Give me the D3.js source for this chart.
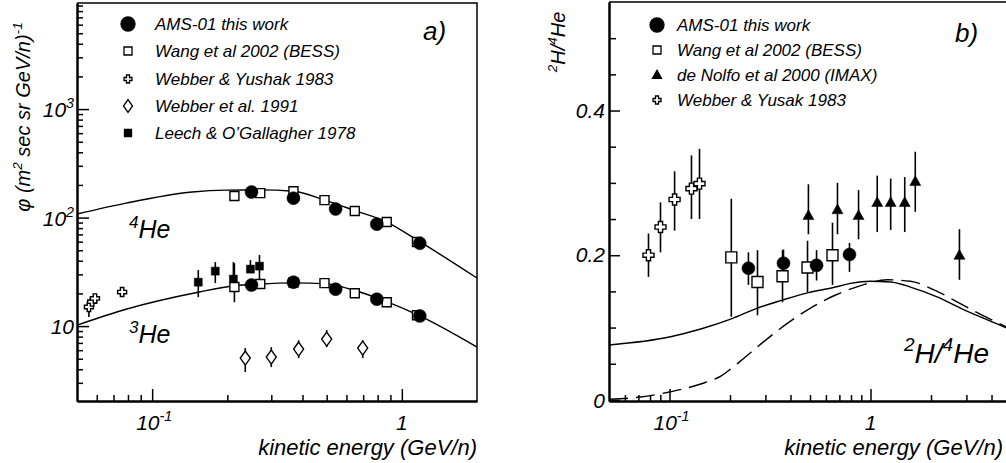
<!DOCTYPE html>
<html><head><meta charset="utf-8">
<script src="https://cdn.jsdelivr.net/npm/d3@7"></script>
<style>
body{margin:0;background:#fff}
text{font-family:"Liberation Sans",Arial,sans-serif;font-style:italic;fill:#000}
</style>
</head><body><svg id="c" width="1006" height="463"></svg>
<script>
// ---------- Panel a) : He fluxes ----------
const amsE = [0.25, 0.368, 0.543, 0.794, 1.18];
const amsHe4 = [172, 151, 120, 87, 58];
const amsHe3 = [23.9, 25.4, 21.9, 17.7, 12.4];
const bessE = [0.2135, 0.271, 0.368, 0.49, 0.648, 0.87, 1.15];
const bessHe4 = [158, 168, 175, 145, 115, 91, 59.5];
const bessHe3 = [22.9, 24.4, 25.2, 24.9, 20.1, 16.6, 12.6];
const bessHe3Lo = [16.6, 23.4, 24.2, 23.9, 19.2, 15.8, 12.0];
const bessHe3Hi = [38.0, 25.4, 26.2, 25.9, 21.0, 17.4, 13.2];
const webYushE = [0.0558, 0.0575, 0.059, 0.0758];
const webYushHe3 = [15.0, 16.8, 18.0, 20.6];
const webYushLo = [12.1, 15.5, 16.8, 19.5];
const webYushHi = [17.5, 18.2, 19.3, 21.8];
const web91E = [0.236, 0.30, 0.386, 0.50, 0.697];
const web91He3 = [5.07, 5.18, 6.14, 7.59, 6.27];
const web91Lo = [3.77, 4.19, 5.07, 6.4, 5.07];
const web91Hi = [6.27, 6.4, 7.4, 9.2, 7.4];
const leechE = [0.153, 0.179, 0.2115, 0.2475, 0.269];
const leechHe3 = [25.4, 32.1, 27.1, 33.5, 35.7];
const leechLo = [18.5, 24.9, 21.5, 30.8, 26.5];
const leechHi = [32.8, 38.9, 38.9, 40.6, 45.2];
const he4ModelE = [0.05, 0.0786, 0.1448, 0.198, 0.269, 0.368, 0.49, 0.648, 0.87, 1.18, 2.0];
const he4Model = [107.7, 136, 172, 179, 180, 175, 145, 116, 91, 60, 27.7];
const he3ModelE = [0.05, 0.0786, 0.1545, 0.2096, 0.269, 0.368, 0.49, 0.648, 0.87, 1.18, 2.0];
const he3Model = [10.2, 14.3, 20.6, 23.4, 24.4, 25.0, 24.6, 21.3, 16.8, 12.4, 6.4];
const legendA = ["AMS-01 this work", "Wang et al 2002 (BESS)", "Webber & Yushak 1983", "Webber et al. 1991", "Leech & O\u2019Gallagher 1978"];
const legendASym = ["circle", "square", "cross", "diamond", "fsquare"];

// ---------- Panel b) : 2H/4He ratio ----------
const rWebE = [0.0786, 0.0902, 0.106, 0.1286, 0.141];
const rWeb = [0.2, 0.239, 0.277, 0.292, 0.299];
const rWebLo = [0.17, 0.204, 0.234, 0.25, 0.25];
const rWebHi = [0.23, 0.273, 0.316, 0.338, 0.347];
const rBessE = [0.203, 0.274, 0.365, 0.486, 0.647];
const rBess = [0.197, 0.163, 0.171, 0.183, 0.2];
const rBessLo = [0.115, 0.117, 0.135, 0.149, 0.159];
const rBessHi = [0.278, 0.207, 0.207, 0.22, 0.245];
const rAmsE = [0.247, 0.369, 0.539, 0.786];
const rAms = [0.182, 0.189, 0.186, 0.201];
const rAmsLo = [0.159, 0.17, 0.165, 0.177];
const rAmsHi = [0.204, 0.208, 0.207, 0.217];
const rImaxE = [0.491, 0.685, 0.872, 1.08, 1.26, 1.48, 1.67, 2.77];
const rImax = [0.255, 0.263, 0.255, 0.273, 0.273, 0.273, 0.302, 0.2];
const rImaxLo = [0.229, 0.229, 0.222, 0.232, 0.235, 0.232, 0.26, 0.166];
const rImaxHi = [0.298, 0.3, 0.29, 0.31, 0.306, 0.308, 0.343, 0.236];
const solidE = [0.05, 0.1, 0.143, 0.203, 0.274, 0.365, 0.486, 0.647, 0.794, 1.0, 1.26, 1.58, 2.16, 2.8, 3.5, 5.0];
const solidR = [0.076, 0.087, 0.098, 0.112, 0.127, 0.138, 0.148, 0.155, 0.161, 0.164, 0.163, 0.156, 0.142, 0.127, 0.115, 0.097];
const dashE = [0.05, 0.0717, 0.1, 0.143, 0.18, 0.226, 0.284, 0.378, 0.503, 0.67, 0.894, 1.21, 1.58, 2.11, 2.8, 3.72, 5.0];
const dashR = [0.001, 0.004, 0.011, 0.022, 0.033, 0.054, 0.077, 0.104, 0.127, 0.145, 0.158, 0.166, 0.164, 0.151, 0.133, 0.115, 0.098];
const legendB = ["AMS-01 this work", "Wang et al 2002 (BESS)", "de Nolfo et al 2000 (IMAX)", "Webber & Yusak 1983"];
const legendBSym = ["circle", "square", "triangle", "cross"];

const svg = d3.select("#c");
svg.append("rect").attr("width", 1006).attr("height", 463).attr("fill", "#fff");

// scales
const ax = d3.scaleLog().domain([0.05, 2]).range([77, 477]);
const ay = d3.scaleLog().domain([2.04, 9500]).range([401, 3]);
const bx = d3.scaleLog().domain([0.05, 5]).range([609, 1011]);
const by = d3.scaleLinear().domain([-0.0015, 0.55]).range([401, 2]);

// ----- markers -----
function symPath(type, s) {
  const h = s / 2;
  switch (type) {
    case "square": case "fsquare":
      return `M${-h},${-h}H${h}V${h}H${-h}Z`;
    case "diamond":
      return `M0,${-s * 0.7}L${h},0L0,${s * 0.7}L${-h},0Z`;
    case "triangle":
      return `M0,${-h * 1.05}L${h},${h * 0.75}L${-h},${h * 0.75}Z`;
    case "cross": {
      const b = s * 0.19;
      return `M${-b},${-h}H${b}V${-b}H${h}V${b}H${b}V${h}H${-b}V${b}H${-h}V${-b}H${-b}Z`;
    }
    default: {
      return `M${-h},0A${h},${h} 0 1,0 ${h},0A${h},${h} 0 1,0 ${-h},0Z`;
    }
  }
}
function symFill(type) {
  return (type === "circle" || type === "fsquare" || type === "triangle") ? "#000" : "#fff";
}
function drawPoints(g, xs, ys, X, Y, type, s) {
  g.selectAll(null).data(xs.map((d, i) => [d, ys[i]])).enter().append("path")
    .attr("d", symPath(type, s))
    .attr("transform", d => `translate(${X(d[0])},${Y(d[1])})`)
    .attr("fill", symFill(type)).attr("stroke", "#000")
    .attr("stroke-width", type === "circle" || type === "fsquare" || type === "triangle" ? 0.5 : 1.4);
}
function drawErr(g, xs, lo, hi, X, Y) {
  g.selectAll(null).data(xs.map((d, i) => [d, lo[i], hi[i]])).enter().append("line")
    .attr("x1", d => X(d[0])).attr("x2", d => X(d[0]))
    .attr("y1", d => Y(d[1])).attr("y2", d => Y(d[2]))
    .attr("stroke", "#000").attr("stroke-width", 1.6);
}

// ----- text with superscripts -----
function rich(g, x, y, parts, size, anchor) {
  const t = g.append("text").attr("x", x).attr("y", y).attr("font-size", size)
    .attr("text-anchor", anchor || "start");
  let raised = false;
  parts.forEach(p => {
    const sup = Array.isArray(p);
    const str = sup ? p[0] : p;
    const sp = t.append("tspan").text(str);
    if (sup && !raised) { sp.attr("dy", -size * 0.42).attr("font-size", size * 0.68); raised = true; }
    else if (sup) { sp.attr("font-size", size * 0.68); }
    else if (!sup && raised) { sp.attr("dy", size * 0.42); raised = false; }
  });
  return t;
}

// clip paths
const defs = svg.append("defs");
defs.append("clipPath").attr("id", "ca").append("rect").attr("x", 77).attr("y", 3).attr("width", 400).attr("height", 398);
defs.append("clipPath").attr("id", "cb").append("rect").attr("x", 609).attr("y", 2).attr("width", 402).attr("height", 399);

// ================= Panel a =================
const ga = svg.append("g");
function decadeMinors(lo, hi) {
  const out = [];
  for (let e = -3; e <= 4; e++) for (let m = 2; m <= 9; m++) {
    const v = m * Math.pow(10, e);
    if (v > lo * 1.001 && v < hi * 0.999) out.push(+v.toPrecision(3));
  }
  return out;
}
// x axis
ga.append("g").attr("transform", "translate(0,401)")
  .call(d3.axisTop(ax).tickValues(decadeMinors(0.05, 2)).tickSize(6).tickSizeOuter(0).tickFormat(""));
ga.append("g").attr("transform", "translate(0,401)")
  .call(d3.axisTop(ax).tickValues([0.1, 1]).tickSize(12).tickSizeOuter(0).tickFormat(""));
// y axis
ga.append("g").attr("transform", "translate(77,0)")
  .call(d3.axisRight(ay).tickValues(decadeMinors(2.04, 9500)).tickSize(6).tickSizeOuter(0).tickFormat(""));
ga.append("g").attr("transform", "translate(77,0)")
  .call(d3.axisRight(ay).tickValues([10, 100, 1000]).tickSize(12).tickSizeOuter(0).tickFormat(""));
ga.selectAll(".domain").attr("stroke-width", 2);
ga.selectAll(".tick line").attr("stroke-width", 1.5);
// frame
ga.append("path").attr("d", `M77,3H477V401`).attr("fill", "none").attr("stroke", "#000").attr("stroke-width", 1.5);

// tick labels
rich(ga, 74, ay(1000) + 8, ["10", ["3"]], 21, "end");
rich(ga, 74, ay(100) + 8, ["10", ["2"]], 21, "end");
rich(ga, 74, ay(10) + 8, ["10"], 21, "end");
rich(ga, ax(0.1) + 2, 430, ["10", ["-1"]], 21, "middle");
rich(ga, ax(1), 430, ["1"], 21, "middle");
rich(ga, 477, 455, ["kinetic energy (GeV/n)"], 22, "end");
const ta = ga.append("g").attr("transform", "translate(30,117) rotate(-90)");
rich(ta, 0, 0, ["\u03c6 (m", ["2"], " sec sr GeV/n)", ["-1"]], 20, "middle");

// curves
const lineA = d3.line().x(d => ax(d[0])).y(d => ay(d[1])).curve(d3.curveMonotoneX);
ga.append("path").attr("clip-path", "url(#ca)").attr("d", lineA(he4ModelE.map((e, i) => [e, he4Model[i]])))
  .attr("fill", "none").attr("stroke", "#000").attr("stroke-width", 1.4);
ga.append("path").attr("clip-path", "url(#ca)").attr("d", lineA(he3ModelE.map((e, i) => [e, he3Model[i]])))
  .attr("fill", "none").attr("stroke", "#000").attr("stroke-width", 1.4);

// data
drawErr(ga, leechE, leechLo, leechHi, ax, ay);
drawErr(ga, bessE, bessHe3Lo, bessHe3Hi, ax, ay);
drawErr(ga, webYushE, webYushLo, webYushHi, ax, ay);
drawErr(ga, web91E, web91Lo, web91Hi, ax, ay);
drawPoints(ga, leechE, leechHe3, ax, ay, "fsquare", 8);
drawPoints(ga, webYushE, webYushHe3, ax, ay, "cross", 9);
drawPoints(ga, web91E, web91He3, ax, ay, "diamond", 10);
drawPoints(ga, bessE, bessHe4, ax, ay, "square", 9);
drawPoints(ga, bessE, bessHe3, ax, ay, "square", 9);
drawPoints(ga, amsE, amsHe4, ax, ay, "circle", 13);
drawPoints(ga, amsE, amsHe3, ax, ay, "circle", 13);

// labels
rich(ga, 129, 238, [["4"], "He"], 25);
rich(ga, 129, 343, [["3"], "He"], 25);
ga.append("text").attr("x", 423).attr("y", 40).attr("font-size", 26).text("a)");

// legend
const legA = [24, 51, 79, 106, 133];
legendA.forEach((t, i) => {
  const sz = {circle: 14, square: 8, cross: 8, diamond: 9, fsquare: 7}[legendASym[i]];
  ga.append("path").attr("d", symPath(legendASym[i], sz)).attr("transform", `translate(128,${legA[i]})`)
    .attr("fill", symFill(legendASym[i])).attr("stroke", "#000").attr("stroke-width", 1.3);
  ga.append("text").attr("x", 155).attr("y", legA[i] + 6).attr("font-size", 17).text(t);
});

// ================= Panel b =================
const gb = svg.append("g");
gb.append("g").attr("transform", "translate(0,401)")
  .call(d3.axisTop(bx).tickValues(decadeMinors(0.05, 5)).tickSize(6).tickSizeOuter(0).tickFormat(""));
gb.append("g").attr("transform", "translate(0,401)")
  .call(d3.axisTop(bx).tickValues([0.1, 1]).tickSize(12).tickSizeOuter(0).tickFormat(""));
gb.append("g").attr("transform", "translate(609,0)")
  .call(d3.axisRight(by).tickValues([0.05, 0.1, 0.15, 0.25, 0.3, 0.35, 0.45, 0.5]).tickSize(7).tickSizeOuter(0).tickFormat(""));
gb.append("g").attr("transform", "translate(609,0)")
  .call(d3.axisRight(by).tickValues([0, 0.2, 0.4]).tickSize(11).tickSizeOuter(0).tickFormat(""));
gb.selectAll(".domain").attr("stroke-width", 2);
gb.selectAll(".tick line").attr("stroke-width", 1.5);
gb.append("path").attr("d", `M609,2H1011V401`).attr("fill", "none").attr("stroke", "#000").attr("stroke-width", 1.5);

rich(gb, 605, by(0.4) + 7, ["0.4"], 21, "end");
rich(gb, 605, by(0.2) + 7, ["0.2"], 21, "end");
rich(gb, 605, by(0) + 8, ["0"], 21, "end");
rich(gb, bx(0.1) + 2, 430, ["10", ["-1"]], 21, "middle");
rich(gb, bx(1), 430, ["1"], 21, "middle");
rich(gb, 1003, 455, ["kinetic energy (GeV/n)"], 22, "end");
const tb = gb.append("g").attr("transform", "translate(565,42) rotate(-90)");
rich(tb, 0, 0, [["2"], "H/", ["4"], "He"], 20, "middle");

const lineB = d3.line().x(d => bx(d[0])).y(d => by(d[1])).curve(d3.curveMonotoneX);
gb.append("path").attr("clip-path", "url(#cb)").attr("d", lineB(solidE.map((e, i) => [e, solidR[i]])))
  .attr("fill", "none").attr("stroke", "#000").attr("stroke-width", 1.4);
gb.append("path").attr("clip-path", "url(#cb)").attr("d", lineB(dashE.map((e, i) => [e, dashR[i]])))
  .attr("fill", "none").attr("stroke", "#000").attr("stroke-width", 1.4).attr("stroke-dasharray", "19,8");

drawErr(gb, rWebE, rWebLo, rWebHi, bx, by);
drawErr(gb, rBessE, rBessLo, rBessHi, bx, by);
drawErr(gb, rAmsE, rAmsLo, rAmsHi, bx, by);
drawErr(gb, rImaxE, rImaxLo, rImaxHi, bx, by);
drawPoints(gb, rWebE, rWeb, bx, by, "cross", 11);
drawPoints(gb, rBessE, rBess, bx, by, "square", 11);
drawPoints(gb, rAmsE, rAms, bx, by, "circle", 13);
drawPoints(gb, rImaxE, rImax, bx, by, "triangle", 11);

rich(gb, 904, 363, [["2"], "H/", ["4"], "He"], 28);
gb.append("text").attr("x", 955).attr("y", 42).attr("font-size", 26).text("b)");

const legB = [25, 50, 75, 100];
legendB.forEach((t, i) => {
  const sz = {circle: 14, square: 8, cross: 8, triangle: 9}[legendBSym[i]];
  gb.append("path").attr("d", symPath(legendBSym[i], sz)).attr("transform", `translate(657,${legB[i]})`)
    .attr("fill", symFill(legendBSym[i])).attr("stroke", "#000").attr("stroke-width", 1.3);
  gb.append("text").attr("x", 677).attr("y", legB[i] + 6).attr("font-size", 17).text(t);
});
</script></body></html>
